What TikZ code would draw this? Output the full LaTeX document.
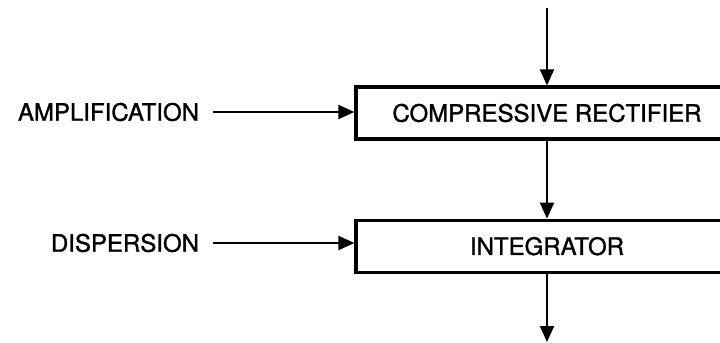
\documentclass[tikz,border=0pt]{standalone}
\usepackage{fontspec}
\setmainfont{TeX Gyre Heros}[BoldFont={TeX Gyre Heros},BoldFeatures={FakeBold=1.2}]
\usetikzlibrary{positioning,arrows.meta}

\begin{document}
\begin{tikzpicture}[->,>={Triangle[length=8pt,width=7pt]},line width=1pt,
                    node distance=39pt,font=\fontsize{12}{14}\selectfont\bfseries]
  \tikzstyle{block}=[draw=black,line width=1.6pt,minimum width=191pt,
                     minimum height=26pt,inner sep=0pt]
  \tikzstyle{input}=[anchor=east,inner sep=0pt]

  \useasboundingbox (0,0) rectangle (360pt,-171.5pt);
  \clip (0,0) rectangle (360pt,-171.5pt);

  \node[block]            (comp)  at (273.5pt,-56.5pt) {COMPRESSIVE RECTIFIER};
  \node[block]            (integ) [below=of comp]      {INTEGRATOR};
  \node[input]            (amp)   at (100pt,-56pt)     {AMPLIFICATION};
  \node[input]            (disp)  at (100pt,-121.5pt)  {DISPERSION};

  \coordinate (in)  at (273.5pt,-4pt);
  \coordinate (out) at (273.5pt,-171pt);

  \draw (in) -- (comp);
  \draw (comp) -- (integ);
  \draw (integ) -- (out);
  \draw[shorten <=6.5pt] (amp) -- (amp -| comp.west);
  \draw[shorten <=6.5pt] (disp) -- (disp -| integ.west);
\end{tikzpicture}
\end{document}
